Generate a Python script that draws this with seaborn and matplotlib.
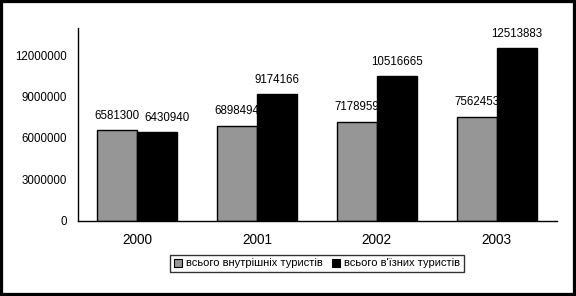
import matplotlib
matplotlib.use("Agg")
import matplotlib.pyplot as plt
import seaborn as sns
import pandas as pd
from matplotlib.patches import Rectangle
from matplotlib.ticker import FixedLocator, FuncFormatter

years = ["2000", "2001", "2002", "2003"]
domestic = [6581300, 6898494, 7178959, 7562453]
inbound = [6430940, 9174166, 10516665, 12513883]
series_names = ["всього внутрішніх туристів", "всього в'їзних туристів"]
y_ticks = [0, 3000000, 6000000, 9000000, 12000000]

df = pd.DataFrame({
    "year": years * 2,
    "value": domestic + inbound,
    "series": [series_names[0]] * len(years) + [series_names[1]] * len(years),
})

sns.set_style("white")
plt.rcParams["font.family"] = ["Liberation Sans", "DejaVu Sans"]
plt.rcParams["text.color"] = "black"
plt.rcParams["xtick.color"] = "black"
plt.rcParams["ytick.color"] = "black"
plt.rcParams["axes.labelcolor"] = "black"

fig = plt.figure(figsize=(5.76, 2.96), dpi=100)
ax = fig.add_axes([77.5 / 576, 1 - 220.5 / 296, 479 / 576, 192.5 / 296])

sns.barplot(data=df, x="year", y="value", hue="series", order=years,
            hue_order=series_names, palette=["#969696", "#000000"],
            edgecolor="black", linewidth=1, width=0.667, gap=0,
            saturation=1, ax=ax, legend=True)

ax.set_xlim(-0.5, len(years) - 0.5)
ax.set_ylim(0, 14000000)
ax.yaxis.set_major_locator(FixedLocator(y_ticks))
ax.yaxis.set_major_formatter(FuncFormatter(lambda v, p: f"{int(v)}"))
ax.set_xlabel("")
ax.set_ylabel("")

for s in ["top", "right"]:
    ax.spines[s].set_visible(False)
for s in ["left", "bottom"]:
    ax.spines[s].set_color("black")
    ax.spines[s].set_linewidth(1)

ax.tick_params(axis="y", which="major", direction="out", length=3.5,
               width=1, color="black", labelcolor="black", labelsize=8.3, pad=4)
ax.tick_params(axis="x", which="major", length=0, labelsize=9.8, pad=9,
               labelcolor="black")
ax.set_xticks([i - 0.5 for i in range(len(years) + 1)], minor=True)
ax.tick_params(axis="x", which="minor", direction="out", length=3.5,
               width=1, color="black")

for cont in ax.containers:
    ax.bar_label(cont, labels=[f"{int(v)}" for v in cont.datavalues],
                 padding=6, fontsize=8.3, color="black")

# nudge the overlapping first inbound label as in the reference
texts = [t for t in ax.texts]
if len(texts) >= 5:
    t = texts[4]
    t.xyann = (7, t.xyann[1])

leg = ax.legend(loc="center", bbox_to_anchor=(317 / 576, 1 - 263.5 / 296),
                bbox_transform=fig.transFigure, ncol=2, frameon=True,
                fancybox=False, fontsize=8, handlelength=0.7,
                handleheight=0.7, handletextpad=0.4, columnspacing=0.8,
                borderpad=0.35, borderaxespad=0)
leg.get_frame().set_edgecolor("black")
leg.get_frame().set_linewidth(1)
for txt in leg.get_texts():
    txt.set_color("black")
for h in leg.legend_handles:
    h.set_edgecolor("black")
    h.set_linewidth(0.8)

fig.patches.append(Rectangle((0, 0), 1, 1, transform=fig.transFigure,
                             fill=False, edgecolor="black", linewidth=4.5))

fig.savefig("out.png", dpi=100, facecolor="white")
